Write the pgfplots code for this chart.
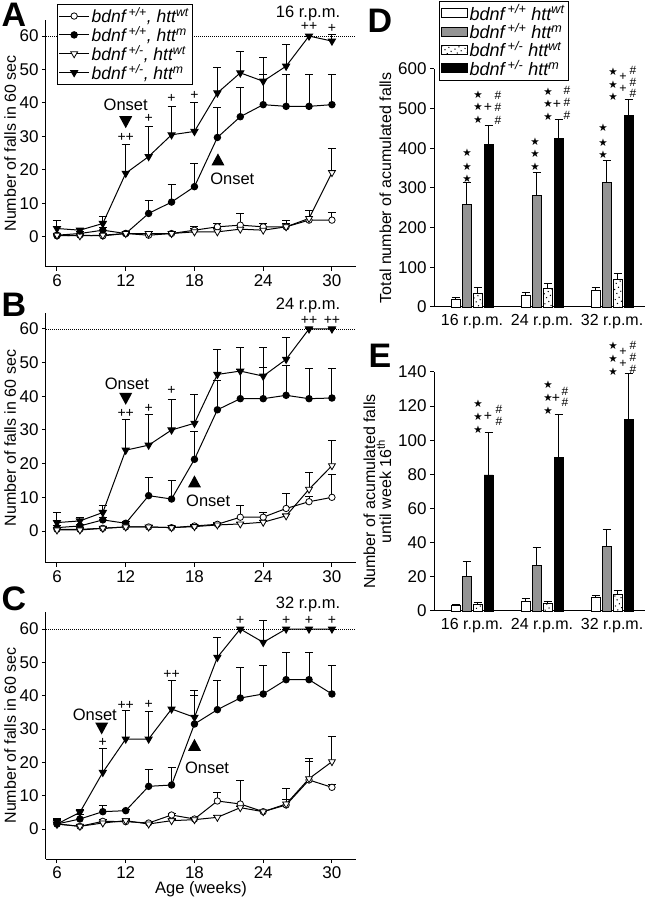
\documentclass[border=0pt]{standalone}
\usepackage{fontspec}
\setmainfont{Liberation Sans}
\newfontfamily\djv{DejaVu Sans}
\usepackage{pgfplots}
\pgfplotsset{compat=1.18}
\usetikzlibrary{patterns.meta}
\newcommand{\fs}[1]{\fontsize{#1}{#1}\selectfont}
\newcommand{\gen}[3]{\textit{bdnf\,\textsuperscript{#1}#3 htt\textsuperscript{#2}}}
\pgfplotsset{
  base/.style={scale only axis, axis lines=left, axis line style={-, line width=1pt},
    x axis line style={-}, y axis line style={-},
    tick align=outside, major tick length=4pt, tick style={black, line width=1pt},
    clip=false, /pgf/number format/assume math mode=true,
    tick label style={font=\fs{17}}, label style={font=\fs{16}}},
  lp/.style={base, width=310pt, xmin=5.04, xmax=32.1, xtick={6,12,18,24,30},
    ytick={0,10,...,60}, ylabel={Number of falls in 60 sec}, ylabel style={yshift=-1pt},
    y tick label style={inner sep=1pt, xshift=-2.3pt}},
  eb/.style={error bars/y dir=plus, error bars/y explicit,
    error bars/error bar style={line width=1pt, solid},
    error bars/error mark options={rotate=90, line width=1pt, mark size=4pt, solid}},
  s1/.style={eb, black, line width=1pt, mark=*, mark size=3.2pt, mark options={fill=white, line width=0.8pt}},
  s2/.style={eb, black, line width=1pt, mark=*, mark size=3.2pt, mark options={fill=black}},
  s3/.style={eb, black, line width=1pt, mark=triangle*, mark size=4pt, mark options={rotate=180, fill=white, line width=0.8pt}},
  s4/.style={eb, black, line width=1pt, mark=triangle*, mark size=4pt, mark options={rotate=180, fill=black}},
  ref60/.style={black, line width=0.9pt, dash pattern=on 1pt off 1pt, forget plot},
  bp/.style={base, width=211pt, xmin=-0.543, xmax=2.47, xtick={0,1,2},
    xticklabels={16 r.p.m., 24 r.p.m., 32 r.p.m.}, x tick style={draw=none},
    x tick label style={font=\fs{16}}, ymin=0},
  beb/.style={error bars/y dir=plus, error bars/y explicit,
    error bars/error bar style={line width=0.8pt, solid, black},
    error bars/error mark options={rotate=90, line width=0.8pt, mark size=4pt, solid, black}},
  bb/.style={ybar, bar width=9pt, bar shift=0pt, draw=black, line width=0.8pt, beb},
  b1/.style={bb, fill=white, x filter/.expression={x-0.2357}},
  b2/.style={bb, fill=black!42, x filter/.expression={x-0.0786}},
  b3/.style={bb, fill=white, postaction={pattern={Dots[distance=4.5pt, radius=0.75pt, angle=30]}}, x filter/.expression={x+0.0786}},
  b4/.style={bb, fill=black, x filter/.expression={x+0.2357}},
}
\newcommand{\dtri}[2]{\fill (axis cs:#1,#2) ++(-6.5pt,5.5pt) -- ++(13pt,0pt) -- ++(-6.5pt,-12pt) -- cycle;}
\newcommand{\utri}[2]{\fill (axis cs:#1,#2) ++(-6.5pt,-5.5pt) -- ++(13pt,0pt) -- ++(-6.5pt,12pt) -- cycle;}
\newcommand{\st}{{\djv\fs{10.5}★}}
\tikzset{ann/.style={inner sep=0pt, font=\fs{14}}, hs/.style={inner sep=0pt, font=\fs{12}}, sn/.style={inner sep=0pt},
  ps/.style={inner sep=0pt, font=\fs{12.5}},
  let/.style={inner sep=0pt, font=\fs{34}\bfseries}}
\begin{document}
\begin{tikzpicture}[x=1pt,y=1pt]
\path[use as bounding box] (0,0) rectangle (645,899);

% ---------------- A ----------------
\begin{axis}[lp, at={(46pt,632pt)}, height=247pt, ymin=-9, ymax=64.8,
  legend style={at={(0.035,1.065)}, anchor=north west, draw=black, line width=0.6pt, fill=white,
    font=\fs{17.5}, inner sep=1.5pt, row sep=-1.8pt},
  legend cell align=left,
  legend image code/.code={\draw[mark repeat=2,mark phase=2,#1] plot coordinates {(0pt,0pt) (15pt,0pt) (30pt,0pt)};}]
\addplot[ref60] coordinates {(5.04,60) (32.1,60)};
\addplot[s1] coordinates {(6,0.3)+-(0,0.5) (8,0.5)+-(0,0.5) (10,0.3)+-(0,0.5) (12,1.0)+-(0,0.5) (14,0.5)+-(0,0.5) (16,1.0)+-(0,0.5) (18,2.0)+-(0,1.0) (20,3.0)+-(0,1.0) (22,3.5)+-(0,3.5) (24,3.0)+-(0,1.0) (26,3.0)+-(0,2.0) (28,5.0)+-(0,3.0) (30,5.0)+-(0,2.2)};
\addplot[s2] coordinates {(6,0.5)+-(0,0.5) (8,1.0)+-(0,0.5) (10,2.0)+-(0,0.8) (12,1.0)+-(0,0.5) (14,7.0)+-(0,4.0) (16,10.4)+-(0,5.1) (18,15.0)+-(0,6.8) (20,29.7)+-(0,8.9) (22,35.9)+-(0,8.8) (24,39.5)+-(0,8.9) (26,39.0)+-(0,9.4) (28,39.0)+-(0,9.4) (30,39.5)+-(0,8.9)};
\addplot[s3] coordinates {(6,0.5)+-(0,0.5) (8,0.3)+-(0,0.3) (10,0.5)+-(0,0.5) (12,1.0)+-(0,0.3) (14,1.0)+-(0,0.5) (16,1.0)+-(0,0.5) (18,1.5)+-(0,1.0) (20,1.5)+-(0,1.0) (22,2.3)+-(0,1.0) (24,2.0)+-(0,1.0) (26,3.0)+-(0,1.0) (28,5.5)+-(0,2.5) (30,19.2)+-(0,7.3)};
\addplot[s4] coordinates {(6,2.5)+-(0,2.5) (8,2.0)+-(0,0.5) (10,4.0)+-(0,2.0) (12,19.0)+-(0,8.5) (14,24.0)+-(0,9.0) (16,30.5)+-(0,8.5) (18,31.5)+-(0,8.5) (20,43.0)+-(0,7.5) (22,49.0)+-(0,6.5) (24,46.5)+-(0,7.0) (26,51.0)+-(0,6.5) (28,60.0)+-(0,0) (30,58.5)+-(0,2.1)};
\legend{\gen{+/+}{wt}{,}, \gen{+/+}{m}{,}, \gen{+/-}{wt}{,}, \gen{+/-}{m}{,}}
\node[ann] at (axis cs:12,29.6) {++};
\node[ann] at (axis cs:14,35.3) {+};
\node[ann] at (axis cs:16,41.3) {+};
\node[ann] at (axis cs:18,42.2) {+};
\node[ann] at (axis cs:28,62.8) {++};
\node[ann] at (axis cs:30,62.4) {+};
\node[font=\fs{16.5}] at (axis cs:12,39.6) {Onset};
\dtri{12}{34.4}
\utri{20.05}{23}
\node[font=\fs{16.5}] at (axis cs:21.3,17.2) {Onset};
\end{axis}

% ---------------- B ----------------
\begin{axis}[lp, at={(46pt,336pt)}, height=250pt, ymin=-9.5, ymax=64.75]
\addplot[ref60] coordinates {(5.04,60) (32.1,60)};
\addplot[s1] coordinates {(6,0.5)+-(0,0.5) (8,0.5)+-(0,0.5) (10,0.8)+-(0,0.5) (12,1.2)+-(0,0.3) (14,1.2)+-(0,0.3) (16,1.0)+-(0,0.3) (18,1.5)+-(0,0.5) (20,2.0)+-(0,0.5) (22,4.1)+-(0,3.6) (24,4.1)+-(0,1.4) (26,6.7)+-(0,4.3) (28,8.7)+-(0,1.5) (30,10.0)+-(0,6.8)};
\addplot[s2] coordinates {(6,1.0)+-(0,0.5) (8,1.5)+-(0,0.5) (10,3.3)+-(0,0.8) (12,2.3)+-(0,0.5) (14,10.5)+-(0,5.5) (16,9.5)+-(0,5.5) (18,21.3)+-(0,8.2) (20,36.0)+-(0,8.8) (22,39.3)+-(0,8.8) (24,39.3)+-(0,9.3) (26,40.3)+-(0,8.8) (28,39.3)+-(0,9.0) (30,39.5)+-(0,8.8)};
\addplot[s3] coordinates {(6,0.3)+-(0,0.3) (8,0.3)+-(0,0.3) (10,0.8)+-(0,0.3) (12,1.2)+-(0,0.3) (14,1.2)+-(0,0.3) (16,1.0)+-(0,0.3) (18,1.3)+-(0,0.3) (20,1.8)+-(0,0.3) (22,2.1)+-(0,0.5) (24,2.6)+-(0,0.5) (26,4.5)+-(0,0.5) (28,12.4)+-(0,4.9) (30,19.4)+-(0,7.4)};
\addplot[s4] coordinates {(6,2.5)+-(0,3.0) (8,3.0)+-(0,1.0) (10,5.5)+-(0,2.0) (12,24.0)+-(0,9.0) (14,25.5)+-(0,9.0) (16,30.0)+-(0,9.0) (18,32.0)+-(0,8.5) (20,46.5)+-(0,7.5) (22,47.5)+-(0,7.0) (24,46.0)+-(0,8.5) (26,51.0)+-(0,6.5) (28,60)+-(0,0) (30,60)+-(0,0)};
\node[ann] at (axis cs:12,34.9) {++};
\node[ann] at (axis cs:14,36.4) {+};
\node[ann] at (axis cs:16,41.7) {+};
\node[ann] at (axis cs:28,62.4) {++};
\node[ann] at (axis cs:30,62.4) {++};
\node[font=\fs{16.5}] at (axis cs:12.1,43.6) {Onset};
\dtri{12}{39.4}
\utri{18}{14.6}
\node[font=\fs{16.5}] at (axis cs:19.2,8.9) {Onset};
\end{axis}

% ---------------- C ----------------
\begin{axis}[lp, at={(46pt,40pt)}, height=247pt, ymin=-9, ymax=65.1, xlabel={Age (weeks)}, xlabel style={yshift=4pt, font=\fs{16.5}}]
\addplot[ref60] coordinates {(5.04,60) (32.1,60)};
\addplot[s1] coordinates {(6,1.5)+-(0,1.0) (8,0.8)+-(0,0.5) (10,2.3)+-(0,0.5) (12,2.2)+-(0,0.5) (14,1.8)+-(0,0.3) (16,4.2)+-(0,0.5) (18,3.0)+-(0,0.5) (20,8.4)+-(0,2.6) (22,7.5)+-(0,7.2) (24,5.2)+-(0,0.5) (26,7.2)+-(0,5.0) (28,14.7)+-(0,6.5) (30,12.5)+-(0,1.0)};
\addplot[s2] coordinates {(6,1.5)+-(0,1.0) (8,3.0)+-(0,1.5) (10,5.2)+-(0,1.8) (12,5.5)+-(0,0.5) (14,12.8)+-(0,5.2) (16,13.2)+-(0,5.3) (18,31.5)+-(0,8.5) (20,35.8)+-(0,8.7) (22,39.3)+-(0,9.2) (24,40.5)+-(0,8.5) (26,44.8)+-(0,8.2) (28,44.8)+-(0,8.2) (30,40.5)+-(0,8.5)};
\addplot[s3] coordinates {(6,1.5)+-(0,0.5) (8,0.8)+-(0,0.3) (10,1.8)+-(0,0.5) (12,2.5)+-(0,0.5) (14,1.5)+-(0,0.3) (16,2.5)+-(0,0.5) (18,2.8)+-(0,0.3) (20,3.5)+-(0,0.5) (22,6.4)+-(0,0.5) (24,5.2)+-(0,0.5) (26,7.5)+-(0,1.5) (28,15.1)+-(0,5.1) (30,20.2)+-(0,7.7)};
\addplot[s4] coordinates {(6,1.5)+-(0,1.5) (8,5.0)+-(0,1.0) (10,17.0)+-(0,7.3) (12,27.0)+-(0,8.5) (14,27.0)+-(0,8.3) (16,36.0)+-(0,8.5) (18,33.5)+-(0,8.0) (20,51.5)+-(0,6.0) (22,60)+-(0,0) (24,56.0)+-(0,6.7) (26,60)+-(0,0) (28,60)+-(0,0) (30,60)+-(0,0)};
\node[font=\fs{16.5}] at (axis cs:9.3,34.3) {Onset};
\node[ann] at (axis cs:12,37.2) {++};
\dtri{9.9}{30.3}
\node[ann] at (axis cs:10,26.1) {+};
\node[ann] at (axis cs:14,37.3) {+};
\node[ann] at (axis cs:16,46.3) {++};
\node[ann] at (axis cs:22,62.7) {+};
\node[ann] at (axis cs:26,62.7) {+};
\node[ann] at (axis cs:28,62.7) {+};
\node[ann] at (axis cs:30,62.7) {+};
\utri{18}{25.1}
\node[font=\fs{16.5}] at (axis cs:19.1,18.3) {Onset};
\end{axis}

% ---------------- D ----------------
\begin{axis}[bp, at={(434pt,592pt)}, height=238pt, ymax=600, ytick={0,100,...,600},
  ylabel={Total number of acumulated falls},
  legend style={at={(0.024,1.286)}, anchor=north west, draw=black, line width=0.6pt, fill=white,
    font=\fs{18}, inner sep=1.5pt, row sep=-2.5pt},
  legend cell align=left,
  legend image code/.code={\draw[#1] (0pt,-4.5pt) rectangle (26pt,4.5pt);}]
\addplot[b1] coordinates {(0,19)+-(0,6) (1,29)+-(0,9) (2,42)+-(0,8)};
\addplot[b2] coordinates {(0,259)+-(0,54) (1,282)+-(0,57) (2,314)+-(0,56)};
\addplot[b3] coordinates {(0,35)+-(0,14) (1,46)+-(0,13) (2,69)+-(0,15)};
\addplot[b4] coordinates {(0,410)+-(0,48) (1,424)+-(0,49) (2,484)+-(0,40)};
\legend{\gen{+/+}{wt}{}, \gen{+/+}{m}{}, \gen{+/-}{wt}{}, \gen{+/-}{m}{}}
\end{axis}

% ---------------- E ----------------
\begin{axis}[bp, at={(434pt,288pt)}, height=239pt, ymax=140, ytick={0,20,...,140},
  ylabel={Number of acumulated falls\\until week 16\textsuperscript{th}}, ylabel style={align=center}]
\addplot[b1] coordinates {(0,3.3)+-(0,0.6) (1,5.9)+-(0,1.3) (2,7.8)+-(0,1.4)};
\addplot[b2] coordinates {(0,20.4)+-(0,8.8) (1,26.6)+-(0,10.6) (2,37.6)+-(0,10.4)};
\addplot[b3] coordinates {(0,3.9)+-(0,1.4) (1,4.3)+-(0,1.6) (2,9.8)+-(0,2.3)};
\addplot[b4] coordinates {(0,79.7)+-(0,24.9) (1,89.9)+-(0,25.4) (2,112)+-(0,27.4)};
\end{axis}

% ---------------- titles, letters ----------------
\node[font=\fs{16.5}] at (308,886) {16 r.p.m.};
\node[font=\fs{16.5}] at (308,594) {24 r.p.m.};
\node[font=\fs{16.5}] at (308,295) {32 r.p.m.};
\node[let] at (14,884) {A};
\node[let] at (14,594) {B};
\node[let] at (14,300) {C};
\node[let] at (380,878) {D};
\node[let] at (380,543) {E};

% ---------------- D annotations ----------------
\foreach \y in {153,167,179} {\node[sn] at (467,899-\y) {\st};}
\foreach \y in {142,154,167} {\node[sn] at (535,899-\y) {\st};}
\foreach \y in {128,143,155} {\node[sn] at (603,899-\y) {\st};}
\foreach \y in {95,107,120} {\node[sn] at (478,899-\y) {\st}; \node[hs] at (498,899-\y) {\#};}
\node[ann] at (488,899-107) {+};
\foreach \y in {92,104,117} {\node[sn] at (548,899-\y) {\st};}
\foreach \y in {90,102,115} {\node[hs] at (567,899-\y) {\#};}
\node[ann] at (557,899-104) {+};
\foreach \y in {72,85,97} {\node[sn] at (613,899-\y) {\st};}
\foreach \y in {70,82,93} {\node[hs] at (633,899-\y) {\#};}
\foreach \y in {77,89} {\node[ps] at (623,899-\y) {+};}

% ---------------- E annotations ----------------
\foreach \y in {404,417,430} {\node[sn] at (478,899-\y) {\st};}
\node[ann] at (488,899-416) {+};
\foreach \y in {409,421} {\node[hs] at (499,899-\y) {\#};}
\foreach \y in {385,398,411} {\node[sn] at (548,899-\y) {\st};}
\node[ann] at (556,899-398) {+};
\foreach \y in {391,402} {\node[hs] at (565,899-\y) {\#};}
\foreach \y in {346,359,372} {\node[sn] at (613,899-\y) {\st};}
\foreach \y in {352,364} {\node[ps] at (623,899-\y) {+};}
\foreach \y in {345,357,369} {\node[hs] at (633,899-\y) {\#};}
\end{tikzpicture}
\end{document}
